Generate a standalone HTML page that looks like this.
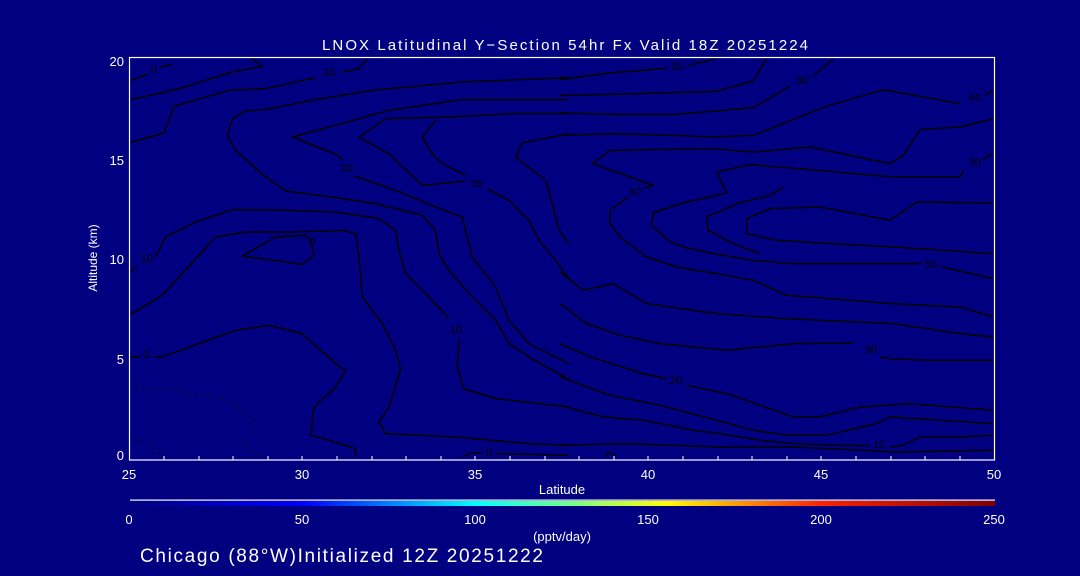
<!DOCTYPE html>
<html><head><meta charset="utf-8"><style>
html,body{margin:0;padding:0;background:#000080;}
svg{display:block;}
text{font-family:"Liberation Sans",sans-serif;fill:#fff;}
.l{fill:#000;font-size:11px;text-anchor:middle;dominant-baseline:central;}
</style></head><body>
<svg width="1080" height="576" viewBox="0 0 1080 576" xmlns="http://www.w3.org/2000/svg">
<defs>
<linearGradient id="cb" x1="0" x2="1" y1="0" y2="0">
<stop offset="0" stop-color="#00007f"/>
<stop offset="0.2" stop-color="#0000ff"/>
<stop offset="0.4" stop-color="#00ffff"/>
<stop offset="0.52" stop-color="#80ff80"/>
<stop offset="0.62" stop-color="#ffff00"/>
<stop offset="0.8" stop-color="#ff2000"/>
<stop offset="1" stop-color="#800000"/>
</linearGradient>
</defs>
<rect width="1080" height="576" fill="#000080"/>
<text x="322" y="50" font-size="15" textLength="486" lengthAdjust="spacing">LNOX Latitudinal Y−Section 54hr  Fx Valid 18Z 20251224</text>

<g fill="none" stroke="#000" stroke-width="4.5" stroke-linejoin="round" transform="translate(129,57) scale(0.3333)">
<polyline points="0,72 55,52"/><polyline points="95,30 130,22"/>
<polyline points="0,130 150,95 310,45 400,28 365,0"/>
<polyline points="0,258 105,228 135,148 300,100 410,95 560,62"/><polyline points="640,45 690,35 720,0"/>
<polyline points="1320,62 1000,75 730,100 560,128 410,157 350,162 310,185 295,235 320,280 400,352 470,402 620,422 740,440 830,462 880,475 920,520 930,590 960,640 1030,720 1100,790 1140,860 1200,900 1320,968"/>
<polyline points="1320,128 1000,128 780,160 620,205 490,240 630,296 640,310"/><polyline points="675,358 690,362 800,400 920,450 1000,480 1030,600 1100,690 1140,790 1200,860 1320,920"/>
<polyline points="1320,170 1150,170 960,180 770,185 690,242 780,290 880,385 1010,372"/><polyline points="1075,395 1140,430 1200,490 1230,550 1280,610 1320,665"/>
<polyline points="1320,230 1180,258 1160,300 1250,370 1270,440 1290,520 1320,560"/>
<polyline points="920,190 880,240 910,290 940,320 1010,355"/>
<polyline points="0,645 25,628"/><polyline points="80,600 110,540 200,495 310,458 480,460 620,465 750,485 800,520 810,580 830,650 900,720 960,785"/><polyline points="990,845 985,930 1005,995 1100,1025 1320,1050"/>
<polyline points="0,775 100,715 150,660 260,540 350,525 490,525 640,520 680,530 690,600 700,720 760,800 800,880 815,935 780,1050 750,1095 770,1130 980,1140 1200,1160 1320,1165"/>
<polyline points="340,597 440,540 530,535 545,550 555,595 520,622 340,597"/>
<polyline points="0,900 35,900"/><polyline points="75,900 100,900 320,820 420,805 520,830 620,920 650,940 620,990 555,1050 545,1135 600,1150 680,1175 680,1200"/>
<polyline points="1000,1200 1030,1188 1060,1188"/><polyline points="1100,1190 1320,1195"/>
<polyline stroke-dasharray="6,14" stroke-width="3.5" points="0,990 150,1000 300,1030 380,1090 360,1130 340,1160 400,1200"/>
<polyline stroke-dasharray="6,14" stroke-width="3.5" points="0,1140 60,1160 100,1200"/>
</g>
<g fill="none" stroke="#000" stroke-width="4.5" stroke-linejoin="round" transform="translate(560,57) scale(0.3333)">
<polyline points="0,68 150,48 270,38 320,33"/><polyline points="385,25 470,5"/>
<polyline points="0,115 150,112 470,103 580,72 620,3"/>
<polyline points="0,168 160,172 350,172 580,152 690,88"/><polyline points="760,58 820,5"/>
<polyline points="0,235 160,230 350,235 460,240 580,235 800,148 970,98 1200,140"/><polyline points="1275,115 1300,100"/>
<polyline points="1300,185 1200,210 1080,218 1030,295 990,320 750,270 580,285 460,275 150,280 98,320 280,385 250,395"/><polyline points="205,420 150,460 150,500 180,540 260,600 350,630 470,650 580,670 680,715 1000,740 1200,750 1300,780"/>
<polyline points="1300,290 1270,305"/><polyline points="1210,340 1200,360 1000,360 810,343 570,323 470,345 500,408 380,435 280,467 275,505 330,555 370,570 460,590 580,610 700,620 1085,620"/><polyline points="1145,630 1300,665"/>
<polyline points="1300,438 1070,435 990,490 860,465 780,450 630,455 560,485 560,530 650,550 780,558 1000,570 1300,590"/>
<polyline points="600,590 520,560 445,520 440,478 490,460 530,440 630,415 670,390"/>
<polyline points="0,645 70,700 160,680 260,740 470,770 680,785 780,790 1000,800 1200,830 1300,840"/>
<polyline points="0,740 80,800 180,835 300,860 500,880 700,860 880,858"/><polyline points="960,900 990,905 1100,910 1300,910"/>
<polyline points="0,860 90,900 250,950 320,965"/><polyline points="380,985 500,1010 700,1080 780,1080 900,1050 1050,1040 1300,1060"/>
<polyline points="0,960 150,1015 300,1045 470,1090 580,1120 680,1135 800,1135 950,1100 990,1080 1300,1100"/>
<polyline points="0,1045 130,1080 250,1090 400,1120 480,1130 600,1150 700,1160 840,1165 930,1166"/><polyline points="990,1170 1030,1165 1080,1140 1200,1140 1300,1135"/>
<polyline points="0,1165 200,1160 470,1170 700,1170 1000,1185 1300,1180"/>
<polyline points="135,1198 150,1185 165,1195"/>
</g>
<g>
<text class="l" x="154" y="70">0</text>
<text class="l" x="329" y="73">10</text>
<text class="l" x="347" y="169">20</text>
<text class="l" x="477" y="184">30</text>
<text class="l" x="147" y="259">10</text>
<text class="l" x="312" y="242">0</text>
<text class="l" x="456" y="330">10</text>
<text class="l" x="146" y="355">0</text>
<text class="l" x="489" y="453">0</text>
<text class="l" x="677" y="67">20</text>
<text class="l" x="802" y="81">30</text>
<text class="l" x="975" y="98">40</text>
<text class="l" x="975" y="163">50</text>
<text class="l" x="635" y="192">40</text>
<text class="l" x="931" y="265">50</text>
<text class="l" x="871" y="350">30</text>
<text class="l" x="676" y="381">20</text>
<text class="l" x="879" y="445">10</text>
</g>
<g fill="none" stroke="#fff" stroke-width="1.2">
<rect x="129.5" y="57.5" width="865" height="402.5"/>
</g>
<g stroke="#fff" stroke-width="1">
<path d="M164,460v-4M199,460v-4M233,460v-4M268,460v-4M302,460v-4M337,460v-4M372,460v-4M406,460v-4M441,460v-4M475,460v-4M510,460v-4M545,460v-4M579,460v-4M614,460v-4M648,460v-4M683,460v-4M718,460v-4M752,460v-4M787,460v-4M821,460v-4M856,460v-4M891,460v-4M925,460v-4M960,460v-4"/>
</g>
<g font-size="13">
<text x="124" y="66" text-anchor="end">20</text>
<text x="124" y="165" text-anchor="end">15</text>
<text x="124" y="264" text-anchor="end">10</text>
<text x="124" y="364" text-anchor="end">5</text>
<text x="124" y="460" text-anchor="end">0</text>
<text x="129" y="479" text-anchor="middle">25</text>
<text x="302" y="479" text-anchor="middle">30</text>
<text x="475" y="479" text-anchor="middle">35</text>
<text x="648" y="479" text-anchor="middle">40</text>
<text x="821" y="479" text-anchor="middle">45</text>
<text x="994" y="479" text-anchor="middle">50</text>
<text x="562" y="494" text-anchor="middle">Latitude</text>
<text transform="translate(97,258) rotate(-90)" text-anchor="middle" font-size="12">Altitude (km)</text>
<text x="129" y="524" text-anchor="middle">0</text>
<text x="302" y="524" text-anchor="middle">50</text>
<text x="475" y="524" text-anchor="middle">100</text>
<text x="648" y="524" text-anchor="middle">150</text>
<text x="821" y="524" text-anchor="middle">200</text>
<text x="994" y="524" text-anchor="middle">250</text>
<text x="562" y="541" text-anchor="middle">(pptv/day)</text>
</g>
<rect x="130" y="499.5" width="865" height="1.2" fill="#fff"/>
<rect x="130" y="501" width="865" height="5" fill="url(#cb)"/>
<text x="140" y="562" font-size="19" textLength="403" lengthAdjust="spacing">Chicago (88°W)Initialized 12Z 20251222</text>
</svg>
</body></html>
